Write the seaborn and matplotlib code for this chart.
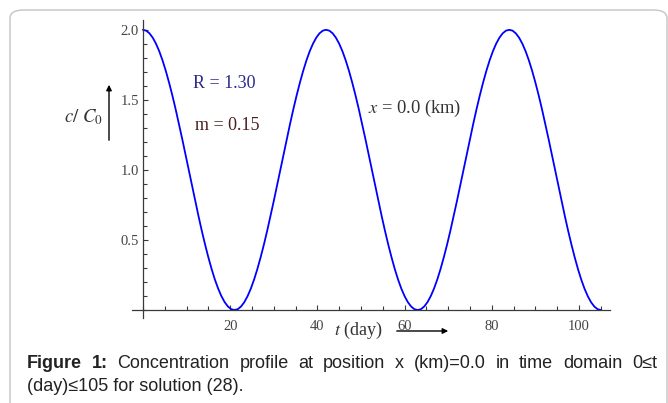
import numpy as np
import seaborn as sns
import matplotlib.pyplot as plt
from matplotlib.patches import FancyBboxPatch
from matplotlib.ticker import MultipleLocator, FixedLocator

# concentration c/C0, every 0.75 day from t=0 to t=105
t_day = np.arange(0, 105.01, 0.75)
conc = [
    2.000, 1.994, 1.975, 1.944, 1.901, 1.847, 1.782, 1.707, 1.623, 1.532, 1.434, 1.330, 1.223, 1.112,
    1.000, 0.888, 0.777, 0.670, 0.566, 0.468, 0.377, 0.293, 0.218, 0.153, 0.099, 0.056, 0.025, 0.006,
    0.000, 0.006, 0.025, 0.056, 0.099, 0.153, 0.218, 0.293, 0.377, 0.468, 0.566, 0.670, 0.777, 0.888,
    1.000, 1.112, 1.223, 1.330, 1.434, 1.532, 1.623, 1.707, 1.782, 1.847, 1.901, 1.944, 1.975, 1.994,
    2.000, 1.994, 1.975, 1.944, 1.901, 1.847, 1.782, 1.707, 1.623, 1.532, 1.434, 1.330, 1.223, 1.112,
    1.000, 0.888, 0.777, 0.670, 0.566, 0.468, 0.377, 0.293, 0.218, 0.153, 0.099, 0.056, 0.025, 0.006,
    0.000, 0.006, 0.025, 0.056, 0.099, 0.153, 0.218, 0.293, 0.377, 0.468, 0.566, 0.670, 0.777, 0.888,
    1.000, 1.112, 1.223, 1.330, 1.434, 1.532, 1.623, 1.707, 1.782, 1.847, 1.901, 1.944, 1.975, 1.994,
    2.000, 1.994, 1.975, 1.944, 1.901, 1.847, 1.782, 1.707, 1.623, 1.532, 1.434, 1.330, 1.223, 1.112,
    1.000, 0.888, 0.777, 0.670, 0.566, 0.468, 0.377, 0.293, 0.218, 0.153, 0.099, 0.056, 0.025, 0.006,
    0.000,
]

x_major = [20, 40, 60, 80, 100]
y_major = [0.5, 1.0, 1.5, 2.0]

sns.set_style('white')
plt.rcParams['font.family'] = ['Liberation Serif', 'DejaVu Serif']
plt.rcParams['mathtext.fontset'] = 'stix'

W, H = 668, 403
fig = plt.figure(figsize=(W / 100, H / 100), dpi=100)

def px(x, y):
    return x / W, 1 - y / H

# rounded frame around the figure
frame = FancyBboxPatch(px(10, 500), (667 - 10) / W, 490 / H, transform=fig.transFigure,
                       boxstyle='round,pad=0,rounding_size=0.02', facecolor='none',
                       edgecolor='#c4c4c4', linewidth=1.0)
fig.patches.append(frame)

ax = fig.add_axes([132 / W, 1 - 318 / H, 478 / W, 298 / H])
sns.lineplot(x=t_day, y=conc, ax=ax, color='#0000ff', linewidth=1.3)

ax.set_xlim(-2.5, 107.1)
ax.set_ylim(-0.057, 2.07)
for s in ['top', 'right']:
    ax.spines[s].set_visible(False)
ax.spines['left'].set_position(('data', 0))
ax.spines['bottom'].set_position(('data', 0))
for s in ['left', 'bottom']:
    ax.spines[s].set_color('#3a3a3a')
    ax.spines[s].set_linewidth(0.9)

ax.xaxis.set_major_locator(FixedLocator(x_major))
ax.xaxis.set_minor_locator(MultipleLocator(5))
ax.yaxis.set_major_locator(FixedLocator(y_major))
ax.yaxis.set_minor_locator(MultipleLocator(0.1))
ax.tick_params(which='both', direction='in', color='#3a3a3a', width=0.8, bottom=True, left=True)
ax.tick_params(which='major', length=3.8)
ax.tick_params(which='minor', length=2.8)
ax.tick_params(axis='x', which='major', labelsize=10.5, labelcolor='#444444', pad=7.5)
ax.tick_params(axis='y', which='major', labelsize=10.5, labelcolor='#444444', pad=3)
ax.set_xticklabels([str(v) for v in x_major])
ax.set_yticklabels(['%.1f' % v for v in y_major])
ax.set_xlabel('')
ax.set_ylabel('')

# annotations
ax.text(18.6, 1.615, 'R = 1.30', color='#2a2a8c', fontsize=13, ha='center', va='center')
ax.text(19.3, 1.32, 'm = 0.15', color='#4a1e1e', fontsize=13, ha='center', va='center')
ax.text(62.3, 1.44, r'$x$ = 0.0 (km)', color='#333333', fontsize=13.3, ha='center', va='center')

# axis labels with arrows
fig.text(*px(83, 117), r'$c/\ C_0$', fontsize=13.5, color='#333333', ha='center', va='center')
ax.annotate('', xy=px(109, 82), xytext=px(109, 143), xycoords='figure fraction',
            arrowprops=dict(arrowstyle='-|>', color='black', lw=1.0, mutation_scale=8))
fig.text(*px(358, 330), r'$t$ (day)', fontsize=13, color='#333333', ha='center', va='center')
ax.annotate('', xy=px(451, 331), xytext=px(394, 331), xycoords='figure fraction',
            arrowprops=dict(arrowstyle='-|>', color='black', lw=1.0, mutation_scale=8))

# caption, justified on the first line
cap_font = ['Liberation Sans', 'DejaVu Sans']
line1 = [('Figure', 'bold'), ('1:', 'bold'), ('Concentration', 'normal'), ('profile', 'normal'),
         ('at', 'normal'), ('position', 'normal'), ('x', 'normal'), ('(km)=0.0', 'normal'),
         ('in', 'normal'), ('time', 'normal'), ('domain', 'normal'), ('0≤t', 'normal')]
fig.canvas.draw()
r = fig.canvas.get_renderer()
x0, x1 = 27, 657
words = []
widths = []
for w, wt in line1:
    tt = fig.text(0, 0, w, fontsize=13, fontweight=wt, family=cap_font, color='#222222',
                  va='baseline')
    words.append(tt)
    widths.append(tt.get_window_extent(r).width)
gap = (x1 - x0 - sum(widths)) / (len(words) - 1)
xc = x0
for tt, wd in zip(words, widths):
    tt.set_position(px(xc, 368))
    xc += wd + gap
fig.text(*px(27, 391), '(day)≤105 for solution (28).', fontsize=13, family=cap_font,
         color='#222222', va='baseline')

fig.savefig('out.png', dpi=100)
